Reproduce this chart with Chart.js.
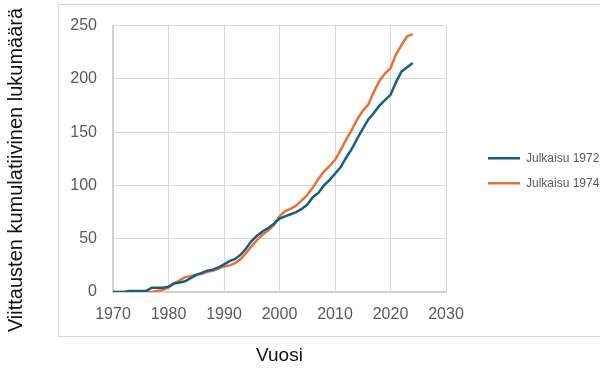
<!DOCTYPE html>
<html>
<head>
<meta charset="utf-8">
<script src="https://cdn.jsdelivr.net/npm/chart.js@4"></script>
<style>
  html, body { margin: 0; padding: 0; background: #fff; }
  #wrap { width: 600px; height: 370px; }
</style>
</head>
<body>
<div id="wrap"><canvas id="citations_plot"></canvas></div>
<script>
'use strict';

// years on the x axis
const years = [
  1970, 1971, 1972, 1973, 1974, 1975, 1976, 1977, 1978, 1979,
  1980, 1981, 1982, 1983, 1984, 1985, 1986, 1987, 1988, 1989,
  1990, 1991, 1992, 1993, 1994, 1995, 1996, 1997, 1998, 1999,
  2000, 2001, 2002, 2003, 2004, 2005, 2006, 2007, 2008, 2009,
  2010, 2011, 2012, 2013, 2014, 2015, 2016, 2017, 2018, 2019,
  2020, 2021, 2022, 2023, 2024
];

// cumulative citations, paper published 1972
const pub1972 = [
  0, 0, 0, 1, 1, 1, 1, 4, 4, 4,
  5, 8, 9, 10, 13, 16, 18, 20, 21, 23,
  26, 29, 31, 35, 41, 48, 53, 57, 60, 64,
  69, 71, 73, 75, 78, 82, 89, 93, 100, 105,
  111, 117, 126, 134, 144, 153, 162, 168, 175, 180,
  185, 197, 207, 211, 215
];

// cumulative citations, paper published 1974
const pub1974 = [
  0, 0, 0, 0, 0, 0, 0, 0, 1, 2,
  4, 8, 11, 14, 15, 16, 17, 19, 20, 22,
  24, 25, 27, 31, 37, 43, 49, 54, 58, 63,
  71, 76, 78, 81, 86, 91, 98, 106, 113, 118,
  124, 133, 143, 152, 162, 170, 176, 188, 198, 205,
  210, 223, 232, 240, 242
];

const seriesNames = ['Julkaisu 1972', 'Julkaisu 1974'];
const xTitle = 'Vuosi';
const yTitle = 'Viittausten kumulatiivinen lukumäärä';

const toPoints = (vals) => years.map((yr, i) => ({x: yr, y: vals[i]}));

// outer frame + rotated y title (title sits outside the frame in the original)
const framePlugin = {
    id: 'frame',
    afterInit(chart) {
        // fixed legend width so the legend lines start where the original has them
        const legend = chart.legend;
        const fit = legend.fit;
        legend.fit = function () {
            fit.call(this);
            this.width = 125;
        };
    },
    beforeDraw(chart) {
        const ctx = chart.ctx;
        ctx.save();
        ctx.strokeStyle = '#d9d9d9';
        ctx.lineWidth = 1;
        ctx.strokeRect(58.5, 4.5, 560, 332);
        ctx.restore();
    },
    afterDraw(chart) {
        const ctx = chart.ctx;
        ctx.save();
        ctx.translate(16, 170);
        ctx.rotate(-Math.PI / 2);
        ctx.font = '20px "Liberation Sans", Arial, sans-serif';
        ctx.fillStyle = '#111';
        ctx.textAlign = 'center';
        ctx.textBaseline = 'middle';
        ctx.fillText(yTitle, 0, 0);
        ctx.restore();
    }
};

const tickFont = {family: '"Liberation Sans", Arial, sans-serif', size: 16};

const chart = new Chart('citations_plot', {
    type: 'line',
    data: {
        datasets: [{
            label: seriesNames[0],
            data: toPoints(pub1972),
            borderColor: '#156082',
            backgroundColor: '#156082',
            borderWidth: 2.5,
            pointRadius: 0,
            tension: 0
        }, {
            label: seriesNames[1],
            data: toPoints(pub1974),
            borderColor: '#E97132',
            backgroundColor: '#E97132',
            borderWidth: 2.5,
            pointRadius: 0,
            tension: 0
        }]
    },
    options: {
        responsive: true,
        maintainAspectRatio: false,
        animation: false,
        layout: {padding: {left: 0, top: 23, right: 0, bottom: 0}},
        plugins: {
            legend: {
                position: 'right',
                fullSize: false,
                title: {display: true, text: '', font: {size: 10}, padding: {top: 6, bottom: 6}},
                labels: {
                    boxWidth: 32,
                    boxHeight: 0,
                    padding: 13,
                    color: '#595959',
                    font: {family: '"Liberation Sans", Arial, sans-serif', size: 12}
                }
            },
            tooltip: {enabled: false}
        },
        scales: {
            x: {
                type: 'linear',
                min: 1970,
                max: 2030,
                ticks: {
                    stepSize: 10,
                    padding: 13,
                    color: '#595959',
                    font: tickFont,
                    callback: (v) => String(v)
                },
                grid: {color: '#d9d9d9', drawTicks: false},
                border: {color: '#d0d0d0', width: 1.5},
                title: {
                    display: true,
                    text: xTitle,
                    color: '#111',
                    font: {family: '"Liberation Sans", Arial, sans-serif', size: 19},
                    padding: {top: 0, bottom: 3}
                },
                afterFit(scale) { scale.height = 78; }
            },
            y: {
                min: 0,
                max: 250,
                ticks: {
                    stepSize: 50,
                    padding: 16,
                    color: '#595959',
                    font: tickFont
                },
                grid: {color: '#d9d9d9', drawTicks: false},
                border: {color: '#d0d0d0', width: 1.5},
                afterFit(scale) { scale.width = 113; }
            },
            // empty spacer between plot and legend
            gap: {
                position: 'right',
                display: true,
                grid: {display: false, drawOnChartArea: false},
                border: {display: false},
                ticks: {display: false},
                afterFit(scale) { scale.width = 29; }
            }
        }
    },
    plugins: [framePlugin]
});
</script>
</body>
</html>
